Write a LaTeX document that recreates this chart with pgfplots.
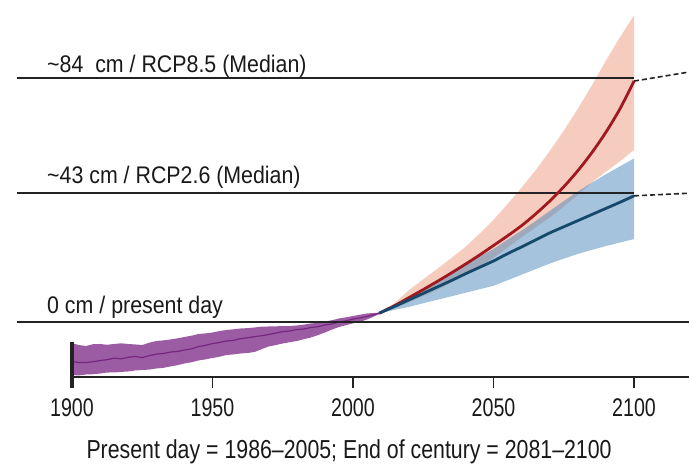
\documentclass[border=0pt]{standalone}
\usepackage{pgfplots}
\pgfplotsset{compat=1.18}
\usepackage{pgfplotstable}
\usepgfplotslibrary{fillbetween}
\usepackage{fontspec}
\setmainfont{Liberation Sans}
\newfontfamily\lblfont[FakeStretch=0.89]{Liberation Sans}
\newfontfamily\tickfont[FakeStretch=0.77]{Liberation Sans}
\newfontfamily\xlblfont[FakeStretch=0.82]{Liberation Sans}

\definecolor{histband}{RGB}{156,92,164}
\definecolor{histline}{RGB}{118,38,128}
\definecolor{redband}{RGB}{246,204,190}
\definecolor{redline}{RGB}{160,24,32}
\definecolor{blueband}{RGB}{75,135,185}
\definecolor{blueline}{RGB}{22,72,108}
\definecolor{refline}{RGB}{35,35,35}
\definecolor{txt}{RGB}{25,25,25}

% observed sea level band (cm relative to present day)
\pgfplotstableread{
year lo hi
1900 -18.15 -7.29
1902.5 -18.3 -7.9
1905 -17.98 -8.22
1907.5 -17.9 -7.6
1910 -17.64 -7.53
1912.5 -17.3 -7.8
1915 -17.29 -7.53
1917.5 -17.1 -7.3
1920 -16.95 -7.53
1922.5 -16.6 -7.7
1925 -16.44 -7.88
1927.5 -16.3 -7.1
1930 -15.92 -6.51
1932.5 -15.7 -6.3
1935 -15.24 -5.99
1937.5 -14.8 -5.6
1940 -14.21 -5.14
1942.5 -13.8 -4.7
1945 -13.18 -4.11
1947.5 -12.8 -3.9
1950 -12.33 -3.60
1952.5 -11.9 -3.1
1955 -11.30 -2.74
1957.5 -11.1 -2.5
1960 -10.79 -2.23
1962.5 -10.6 -2.1
1965 -10.27 -1.88
1967.5 -9.3 -1.6
1970 -8.39 -1.54
1972.5 -7.9 -1.5
1975 -7.36 -1.37
1977.5 -6.9 -1.4
1980 -6.51 -1.20
1982.5 -5.9 -0.9
1985 -5.31 -0.51
1987.5 -4.5 -0.3
1990 -3.60 0.17
1992.5 -2.6 0.6
1995 -1.71 1.20
1997.5 -1.1 1.6
2000 -0.45 2.05
2002.5 0.1 2.5
2005 0.86 2.91
2007.5 1.9 3.1
2009.3 2.7 3.2
}\histbandtab

\pgfplotstableread{
year mid
1900 -13.5
1902.5 -13.9
1905 -13.9
1907.5 -13.6
1910 -13.2
1912.5 -12.9
1915 -12.4
1917.5 -12.6
1920 -12.1
1922.5 -11.8
1925 -12.2
1927.5 -11.5
1930 -11.0
1932.5 -10.8
1935 -10.3
1937.5 -10.1
1940 -9.6
1942.5 -9.2
1945 -8.4
1947.5 -8.0
1950 -7.4
1952.5 -7.0
1955 -6.5
1957.5 -6.3
1960 -5.7
1962.5 -5.4
1965 -5.0
1967.5 -4.7
1970 -4.3
1972.5 -3.8
1975 -3.3
1977.5 -3.1
1980 -2.6
1982.5 -2.4
1985 -1.9
1987.5 -1.6
1990 -1.0
1992.5 -0.7
1995 0.0
1997.5 0.4
2000 1.0
2002.5 1.4
2005 1.9
2007.5 2.5
2009.3 3.0
}\histmidtab

% projections: RCP8.5 (r) and RCP2.6 (b)
\pgfplotstableread{
year rlo rmid rhi blo bmid bhi
2009.3 3.0 3.0 3.0 3.0 3.0 3.0
2015 4.9 5.7 6.6 4.2 5.4 6.0
2020 6.8 8.4 11.0 5.2 7.6 8.6
2025 8.9 11.1 14.6 6.4 9.8 11.3
2030 11.0 13.9 18.2 7.6 12.0 14.0
2035 13.5 16.8 21.9 8.8 14.2 16.8
2040 16.0 19.8 25.7 10.0 16.5 19.6
2045 18.9 22.9 30.2 11.2 18.7 22.3
2050 22.0 26.2 35.0 12.4 20.9 25.0
2055 25.5 29.5 40.4 14.3 23.4 28.2
2060 29.0 33.0 46.0 16.2 25.7 31.3
2065 32.4 37.0 52.0 18.1 28.1 34.6
2070 35.8 41.4 58.5 20.0 30.5 38.0
2075 39.5 46.3 65.5 21.7 32.6 41.4
2080 43.5 51.8 73.0 23.3 34.7 44.7
2085 47.8 58.0 81.0 24.7 36.8 47.7
2090 51.5 65.0 89.5 26.0 38.9 50.6
2095 55.0 73.0 97.5 27.2 41.0 53.3
2100 58.9 82.5 105.0 28.4 43.2 56.0
}\projtab

\begin{document}
\begin{tikzpicture}
\begin{axis}[
  scale only axis,
  width=617pt, height=377pt,
  xmin=1900, xmax=2119.57,
  ymin=-18.84, ymax=110.27,
  clip=false,
  axis x line*=bottom,
  axis y line=none,
  x axis line style={-, line width=1.8pt, color=refline},
  xtick={1900,1950,2000,2050,2100},
  tick align=outside,
  major tick length=11pt,
  x tick style={line width=1.8pt, color=refline},
  /pgf/number format/assume math mode=true,
  xticklabel={\pgfmathprintnumber[1000 sep={}]{\tick}},
  xticklabel style={font=\tickfont\fontsize{25.5}{29}\selectfont, text=txt, anchor=base, yshift=-28pt},
  ytick=\empty,
]
% reference lines
\addplot[refline, line width=1.8pt] coordinates {(1880.4,83.6) (2100,83.6)};
\addplot[refline, line width=1.8pt] coordinates {(1880.4,44.1) (2100,44.1)};
\addplot[refline, line width=1.6pt, dash pattern=on 5pt off 3pt] coordinates {(2100,82.5) (2119.57,85.6)};
\addplot[refline, line width=1.6pt, dash pattern=on 5pt off 3pt] coordinates {(2100,43.2) (2119.57,44.1)};

% RCP8.5 band (opaque)
\addplot[name path=rlo, draw=none, forget plot] table[x=year, y=rlo] {\projtab};
\addplot[name path=rhi, draw=none, forget plot] table[x=year, y=rhi] {\projtab};
\addplot[fill=redband, draw=none] fill between[of=rlo and rhi];
% RCP2.6 band (translucent)
\addplot[name path=blo, draw=none, forget plot] table[x=year, y=blo] {\projtab};
\addplot[name path=bhi, draw=none, forget plot] table[x=year, y=bhi] {\projtab};
\addplot[fill=blueband, fill opacity=0.5, draw=none] fill between[of=blo and bhi];
% medians
\addplot[redline, line width=2.8pt, smooth] table[x=year, y=rmid] {\projtab};
\addplot[blueline, line width=2.8pt, smooth] table[x=year, y=bmid] {\projtab};

% observed
\addplot[name path=hlo, draw=none, forget plot] table[x=year, y=lo] {\histbandtab};
\addplot[name path=hhi, draw=none, forget plot] table[x=year, y=hi] {\histbandtab};
\addplot[fill=histband, draw=none] fill between[of=hlo and hhi];
\addplot[histline, line width=1.2pt] table[x=year, y=mid] {\histmidtab};

% present-day line
\addplot[refline, line width=1.8pt] coordinates {(1880.4,0) (2119.57,0)};

% y-axis stub at 1900
\draw[refline, line width=3.6pt] (axis cs:1900,-6.8) -- ([yshift=-11pt]axis cs:1900,-18.84);

% labels
\node[anchor=base west, text=txt, font=\lblfont\fontsize{24}{28}\selectfont, inner sep=0pt]
  at (axis cs:1891.1,85.5) {\textasciitilde84\ \ cm / RCP8.5 (Median)};
\node[anchor=base west, text=txt, font=\lblfont\fontsize{24}{28}\selectfont, inner sep=0pt]
  at (axis cs:1891.1,47.5) {\textasciitilde43 cm / RCP2.6 (Median)};
\node[anchor=base west, text=txt, font=\lblfont\fontsize{24}{28}\selectfont, inner sep=0pt]
  at (axis cs:1891.1,3.0) {0 cm / present day};
\node[anchor=base, text=txt, font=\xlblfont\fontsize{26}{30}\selectfont, inner sep=0pt]
  at (axis cs:1998.6,-46.7) {Present day = 1986–2005; End of century = 2081–2100};

\coordinate (bbll) at (axis cs:1874.38,-49.32);
\coordinate (bbur) at (axis cs:2119.57,110.27);
\end{axis}
\pgfresetboundingbox
\useasboundingbox (bbll) rectangle (bbur);
\end{tikzpicture}
\end{document}
